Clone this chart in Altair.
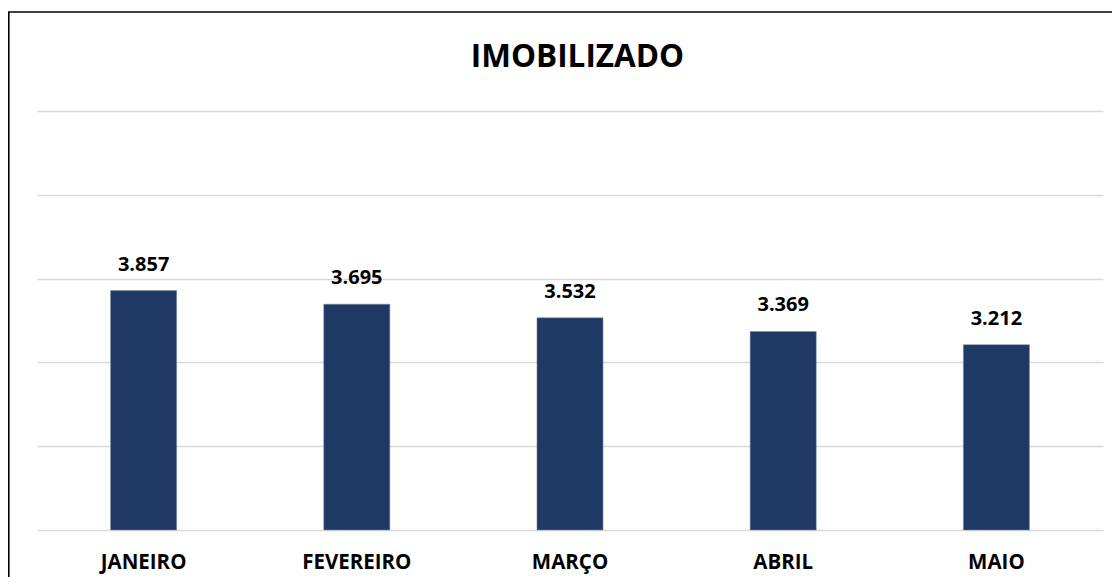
import altair as alt
import pandas as pd

meses = ["JANEIRO", "FEVEREIRO", "MARÇO", "ABRIL", "MAIO"]
valores = [3857, 3695, 3532, 3369, 3212]
rotulos = ["3.857", "3.695", "3.532", "3.369", "3.212"]
grade = [1000, 2000, 3000, 4000, 5000, 6000]
titulo = "IMOBILIZADO"

df = pd.DataFrame({"mes": meses, "valor": valores, "rotulo": rotulos})

FONT = "Open Sans"
W, H = 1066, 419

x = alt.X("mes:N", sort=meses,
          scale=alt.Scale(paddingInner=0.69, paddingOuter=0.345),
          axis=alt.Axis(title=None, labelAngle=0, domain=False, ticks=False, tickSize=0,
                        labelFont=FONT, labelFontSize=20.5, labelFontWeight="bold",
                        labelColor="#000000", labelPadding=38, labelBaseline="alphabetic"))
y = alt.Y("valor:Q",
          scale=alt.Scale(domain=[1000, 6000], nice=False, zero=False),
          axis=alt.Axis(title=None, labels=False, ticks=False, domain=False,
                        values=grade, grid=True, gridColor="#d9d9d9", gridWidth=1.3))

base = alt.Chart(df)
bars = base.mark_bar(color="#203864", stroke="#7f8fa9", strokeWidth=0.5).encode(
    x=x, y=y, y2=alt.datum(1000))
labels = base.mark_text(font=FONT, fontSize=20, fontWeight="bold", color="#000000",
                        baseline="alphabetic", dy=-20).encode(
    x=alt.X("mes:N", sort=meses), y="valor:Q", text="rotulo:N")

tit = alt.Chart(pd.DataFrame({"t": [titulo]})).mark_text(
    font=FONT, fontSize=31.5, fontWeight="bold", color="#000000", baseline="alphabetic",
    align="center").encode(x=alt.value(540.5), y=alt.value(-44), text="t:N")

top_border = alt.Chart(pd.DataFrame({"a": [0]})).mark_rule(color="#000000", strokeWidth=1.6).encode(
    x=alt.value(-29), x2=alt.value(1090), y=alt.value(-99))
left_border = alt.Chart(pd.DataFrame({"a": [0]})).mark_rule(color="#000000", strokeWidth=1.6).encode(
    x=alt.value(-28.2), y=alt.value(-99), y2=alt.value(480))

chart = alt.layer(bars, labels, tit, top_border, left_border).properties(
    width=W, height=H,
    autosize=alt.AutoSizeParams(type="none"),
    padding={"left": 29, "top": 103, "right": 9, "bottom": 47},
    background="#ffffff",
).configure_view(stroke=None)

chart.save("out.html", embed_options={"renderer": "svg", "actions": False})
